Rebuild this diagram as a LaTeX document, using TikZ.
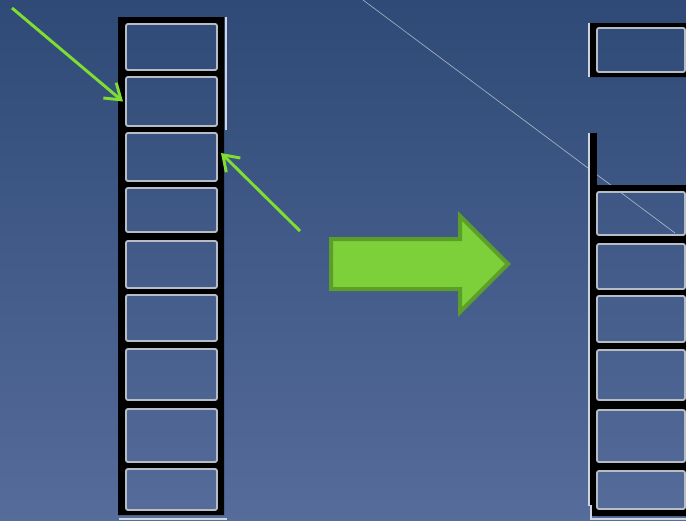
\documentclass[tikz,border=0pt]{standalone}
\usetikzlibrary{arrows.meta,fit}

\definecolor{bgtop}{RGB}{47,74,118}
\definecolor{bgbot}{RGB}{86,108,155}
\definecolor{cellline}{RGB}{184,188,196}
\definecolor{railwhite}{RGB}{208,212,222}
\definecolor{pointergreen}{RGB}{128,222,50}
\definecolor{bigfill}{RGB}{125,208,58}
\definecolor{bigedge}{RGB}{92,158,42}

\tikzset{
  cell/.style={draw=cellline, line width=1.4pt, rounded corners=1.5pt, inner sep=0pt, outer sep=0pt},
  rail/.style={draw=railwhite, line width=1.5pt},
  pointer/.style={draw=pointergreen, line width=2.2pt,
    -{Straight Barb[length=11pt,width=15pt]}},
  bigarrow/.style={fill=bigfill, draw=bigedge, line width=3pt, miter limit=10},
  seam/.style={draw=white, opacity=0.55, line width=0.5pt}
}

\begin{document}
\begin{tikzpicture}[x=0.75pt,y=-0.75pt]
\begin{scope}
  \clip (0,0) rectangle (686,521);
  % backdrop
  \shade[top color=bgtop, bottom color=bgbot] (0,0) rectangle (686,521);

  % faint diagonal seam
  \coordinate (s1) at (363,0);
  \coordinate (s2) at (675,233);
  \draw[seam] (s1) -- (s2);

  % ---------- left stack ----------
  \foreach \n/\t/\b in {1/24/70, 2/77/126, 3/133/181, 4/188/232, 5/241/288,
                        6/295/341, 7/349/400, 8/409/462, 9/469/510} {
    \coordinate (L\n a) at (126,\t);
    \coordinate (L\n b) at (217,\b);
  }
  \fill[black, even odd rule] (118,17) rectangle (224,515)
    \foreach \n in {1,...,9} { (L\n a) rectangle (L\n b) };
  \foreach \n in {1,...,9} { \node[cell, fit=(L\n a)(L\n b)] (L\n) {}; }
  \draw[rail] (226,17) -- (226,130);
  \draw[rail] (119,518.5) -- (227,518.5);

  % ---------- right stack ----------
  \coordinate (R0a) at (597,28);
  \coordinate (R0b) at (685,72);
  \fill[black, even odd rule] (590,23) rectangle (700,77) (R0a) rectangle (R0b);
  \node[cell, fit=(R0a)(R0b)] (R0) {};
  \draw[rail] (588.5,23) -- (588.5,77);

  \foreach \n/\t/\b in {1/192/235, 2/244/289, 3/296/342, 4/350/400,
                        5/410/462, 6/471/509} {
    \coordinate (R\n a) at (597,\t);
    \coordinate (R\n b) at (685,\b);
  }
  \fill[black] (590,133) rectangle (597,516);
  \fill[black, even odd rule] (597,185) rectangle (700,516)
    \foreach \n in {1,...,6} { (R\n a) rectangle (R\n b) };
  \foreach \n in {1,...,6} { \node[cell, fit=(R\n a)(R\n b)] (R\n) {}; }
  \draw[rail] (588.5,133) -- (588.5,506);
  \draw[rail] (590.5,505) -- (590.5,518.5) -- (690,518.5);

  % ---------- pointers ----------
  \coordinate (p1) at (12,8);
  \coordinate (p2) at (300,231);
  \draw[pointer] (p1) -- ([xshift=-2.25pt]L2.west);
  \draw[pointer] (p2) -- ([xshift=3pt,yshift=3pt]L3.east);

  % ---------- big arrow ----------
  \draw[bigarrow] (331,239) -- (460,239) -- (460,216) -- (508,264)
    -- (460,312) -- (460,289) -- (331,289) -- cycle;
\end{scope}
\pgfresetboundingbox
\useasboundingbox (0,0) rectangle (686,521);
\end{tikzpicture}
\end{document}
